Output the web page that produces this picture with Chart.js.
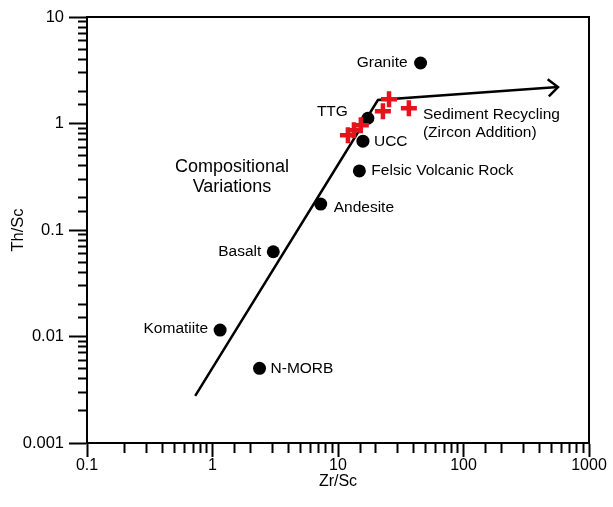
<!DOCTYPE html>
<html>
<head>
<meta charset="utf-8">
<title>Th/Sc vs Zr/Sc</title>
<script src="https://cdn.jsdelivr.net/npm/chart.js@4.4.1/dist/chart.umd.min.js"></script>
<style>
  html, body { margin: 0; padding: 0; background: #fff; }
  #wrap { width: 613px; height: 507px; }
</style>
</head>
<body>
<div id="wrap"><canvas id="myChart" width="613" height="507"></canvas></div>
<script>
// ********* DATA *********
const rockNames = ["Granite", "TTG", "UCC", "Felsic Volcanic Rock", "Andesite", "Basalt", "Komatiite", "N-MORB"];
const rockZrSc = [45.5, 17.3, 15.8, 14.8, 7.28, 3.05, 1.15, 2.37];
const rockThSc = [3.7, 1.12, 0.682, 0.359, 0.175, 0.0625, 0.0115, 0.00503];

// red crosses (sediment recycling)
const recycleZrSc = [12.0, 13.4, 15.2, 22.8, 25.5, 36.7];
const recycleThSc = [0.776, 0.866, 0.964, 1.3, 1.69, 1.39];

// trend line with the arrow
const trendZrSc = [0.728, 20.8, 566];
const trendThSc = [0.00277, 1.66, 2.2];

const xTickValues = [0.1, 1, 10, 100, 1000];
const xTickLabels = ["0.1", "1", "10", "100", "1000"];
const yTickValues = [0.001, 0.01, 0.1, 1, 10];
const yTickLabels = ["0.001", "0.01", "0.1", "1", "10"];

// ********* LAYOUT OF TEXT *********
// label offsets from the point (px), align
const rockLabelLayout = {
  "Granite": { dx: -13, dy: 0, align: "right" },
  "TTG": { dx: -20, dy: -7, align: "right" },
  "UCC": { dx: 11, dy: 1, align: "left" },
  "Felsic Volcanic Rock": { dx: 12, dy: 0, align: "left" },
  "Andesite": { dx: 13, dy: 4, align: "left" },
  "Basalt": { dx: -12, dy: 0, align: "right" },
  "Komatiite": { dx: -12, dy: -1, align: "right" },
  "N-MORB": { dx: 11, dy: 0, align: "left" },
};
// free text anchored at data coords
const freeText = [
  { lines: ["Sediment Recycling", "(Zircon Addition)"], x: 47.5, y: 1.2, align: "left", size: 15.5, gap: 18 },
  { lines: ["Compositional", "Variations"], x: 1.43, y: 0.392, align: "center", size: 18, gap: 20.5 },
];

const FONT = '"Liberation Sans", Arial, Helvetica, sans-serif';

const isMajor = (v) => Math.abs(Math.log10(v) - Math.round(Math.log10(v))) < 1e-6;

const tickLabel = (v, values, labels) => {
  for (let i = 0; i < values.length; i++) {
    if (Math.abs(Math.log10(v) - Math.log10(values[i])) < 1e-6) return labels[i];
  }
  return "";
};

// ********* PLUGIN: frame, arrow head, texts *********
const annotationPlugin = {
  id: "annotations",
  afterDatasetsDraw(chart) {
    const { ctx, chartArea } = chart;
    const xs = chart.scales.x;
    const ys = chart.scales.y;
    ctx.save();

    // top and right border of the box
    ctx.strokeStyle = "#000";
    ctx.lineWidth = 2;
    ctx.beginPath();
    ctx.moveTo(chartArea.left, chartArea.top);
    ctx.lineTo(chartArea.right, chartArea.top);
    ctx.lineTo(chartArea.right, chartArea.bottom);
    ctx.stroke();

    // open arrow head at the end of trend line
    const pts = chart.getDatasetMeta(2).data;
    const p1 = pts[pts.length - 2];
    const p2 = pts[pts.length - 1];
    const ang = Math.atan2(p2.y - p1.y, p2.x - p1.x);
    const len = 13;
    const spread = 0.72;
    ctx.lineWidth = 2.5;
    ctx.lineJoin = "miter";
    ctx.beginPath();
    ctx.moveTo(p2.x - len * Math.cos(ang - spread), p2.y - len * Math.sin(ang - spread));
    ctx.lineTo(p2.x, p2.y);
    ctx.lineTo(p2.x - len * Math.cos(ang + spread), p2.y - len * Math.sin(ang + spread));
    ctx.stroke();

    // rock labels
    ctx.fillStyle = "#000";
    ctx.textBaseline = "middle";
    ctx.font = "15.5px " + FONT;
    rockNames.forEach((name, i) => {
      const lay = rockLabelLayout[name];
      const px = xs.getPixelForValue(rockZrSc[i]);
      const py = ys.getPixelForValue(rockThSc[i]);
      ctx.textAlign = lay.align;
      ctx.fillText(name, px + lay.dx, py + lay.dy);
    });

    // free texts
    freeText.forEach((t) => {
      ctx.font = t.size + "px " + FONT;
      ctx.textAlign = t.align;
      const px = xs.getPixelForValue(t.x);
      const py = ys.getPixelForValue(t.y);
      t.lines.forEach((line, k) => {
        ctx.fillText(line, px, py + k * t.gap);
      });
    });

    ctx.restore();
  },
};

// ********* CHART *********
const ctx = document.getElementById("myChart");

const myChartView = new Chart(ctx, {
  type: "scatter",
  data: {
    datasets: [
      {
        label: "Sediment Recycling",
        data: recycleZrSc.map((v, i) => ({ x: v, y: recycleThSc[i] })),
        pointStyle: "cross",
        pointRadius: 8,
        pointBorderWidth: 4.5,
        borderColor: "#e3141b",
        backgroundColor: "#e3141b",
        order: 0,
      },
      {
        label: "Rocks",
        data: rockZrSc.map((v, i) => ({ x: v, y: rockThSc[i] })),
        pointStyle: "circle",
        pointRadius: 6.5,
        pointBorderWidth: 0,
        backgroundColor: "#000",
        borderColor: "#000",
        order: 1,
      },
      {
        label: "Trend",
        data: trendZrSc.map((v, i) => ({ x: v, y: trendThSc[i] })),
        showLine: true,
        pointRadius: 0,
        borderColor: "#000",
        borderWidth: 2.5,
        tension: 0,
        order: 2,
      },
    ],
  },
  options: {
    responsive: false,
    animation: false,
    events: [],
    layout: {
      padding: { left: 0, top: 17, right: 24, bottom: 0 },
    },
    plugins: {
      legend: { display: false },
      tooltip: { enabled: false },
    },
    scales: {
      x: {
        type: "logarithmic",
        position: "bottom",
        min: 0.1,
        max: 1000,
        border: { color: "#000", width: 2 },
        grid: {
          drawOnChartArea: false,
          tickLength: 14,
          tickWidth: 2,
          tickColor: "#000",
          tickBorderDash: (c) => (c.tick && isMajor(c.tick.value) ? [] : [9, 100]),
        },
        ticks: {
          autoSkip: false,
          maxRotation: 0,
          padding: -1,
          color: "#000",
          font: { family: FONT, size: 16 },
          callback: (v) => tickLabel(v, xTickValues, xTickLabels),
        },
        title: {
          display: true,
          text: "Zr/Sc",
          color: "#000",
          font: { family: FONT, size: 16 },
          padding: { top: 0, bottom: 16 },
        },
        afterFit: (s) => {
          s.height = 64;
        },
      },
      y: {
        type: "logarithmic",
        position: "left",
        min: 0.001,
        max: 10,
        border: { color: "#000", width: 2 },
        grid: {
          drawOnChartArea: false,
          tickLength: 18,
          tickWidth: 2,
          tickColor: "#000",
          tickBorderDash: (c) => (c.tick && isMajor(c.tick.value) ? [] : [0, 9, 9, 0]),
        },
        ticks: {
          autoSkip: false,
          padding: 5,
          color: "#000",
          font: { family: FONT, size: 16.5 },
          callback: (v) => tickLabel(v, yTickValues, yTickLabels),
        },
        title: {
          display: true,
          text: "Th/Sc",
          color: "#000",
          font: { family: FONT, size: 16.5 },
          padding: { top: 9, bottom: 0 },
        },
        afterFit: (s) => {
          s.width = 87;
        },
      },
    },
  },
  plugins: [annotationPlugin],
});
</script>
</body>
</html>
